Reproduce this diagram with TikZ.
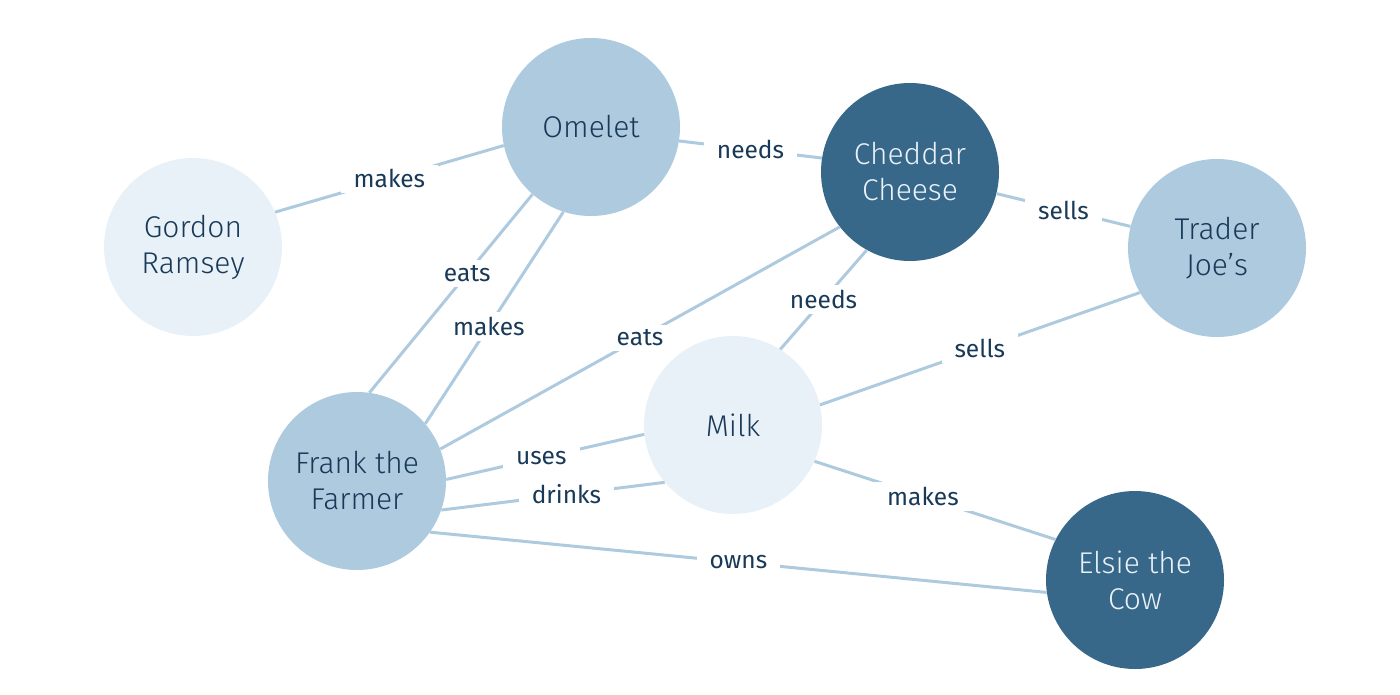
\documentclass[tikz,border=0pt]{standalone}
\usepackage{fontspec}
\setmainfont{Fira Sans}
\newfontfamily\nodefont{Fira Sans}[UprightFont=* Light]
\definecolor{lightblue}{HTML}{AECADF}
\definecolor{darkblue}{HTML}{37688A}
\definecolor{paleblue}{HTML}{E9F1F8}
\definecolor{navy}{HTML}{183A58}
\definecolor{whitetext}{HTML}{EAF1F8}
\begin{document}
\begin{tikzpicture}[x=1pt,y=-1pt,
  entity/.style={circle,minimum size=178pt,inner sep=0pt,align=center,
    font=\nodefont\fontsize{30}{36}\selectfont,text=navy},
  lightnode/.style={entity,fill=lightblue},
  palenode/.style={entity,fill=paleblue},
  darknode/.style={entity,fill=darkblue,text=whitetext},
  link/.style={draw=lightblue,line width=3pt},
  lbl/.style={fill=white,inner xsep=13pt,inner ysep=5pt,text=navy,font=\fontsize{24.5}{28}\selectfont}]
\useasboundingbox (0,0) rectangle (1400,694);
\node[lightnode] (omelet) at (591,127) {Omelet};
\node[darknode]  (cheddar) at (910,172) {Cheddar\\Cheese};
\node[palenode]  (gordon) at (193,247) {Gordon\\Ramsey};
\node[lightnode] (trader) at (1217,248) {Trader\\Joe’s};
\node[palenode]  (milk) at (733,425) {Milk};
\node[lightnode] (frank) at (357,481) {Frank the\\Farmer};
\node[darknode]  (elsie) at (1135,580) {Elsie the\\Cow};
\draw[link] (gordon.23) -- node[lbl]{makes} (omelet.192);
\draw[link] (omelet.-9) -- node[lbl]{needs} (cheddar.171);
\draw[link] (cheddar.-14) -- node[lbl]{sells} (trader.166);
\draw[link] (frank.21) -- node[lbl]{eats} (cheddar.218);
\draw[link] (cheddar.241) -- node[lbl]{needs} (milk.58);
\draw[link] (milk.13) -- node[lbl]{sells} (trader.210);
\draw[link] (milk.-24) -- node[lbl,pos=0.45]{makes} (elsie.153);
\draw[link] (frank.-35) -- node[lbl]{owns} (elsie.188);
\draw[link] (omelet.229) -- node[lbl,pos=0.4]{eats} (frank.82);
\draw[link] (omelet.252) -- node[lbl,pos=0.54]{makes} (frank.40);
\draw[link] (frank.1) -- node[lbl,pos=0.48]{uses} (milk.186);
\draw[link] (frank.-19) -- node[lbl,pos=0.56]{drinks} (milk.220);
\end{tikzpicture}
\end{document}
